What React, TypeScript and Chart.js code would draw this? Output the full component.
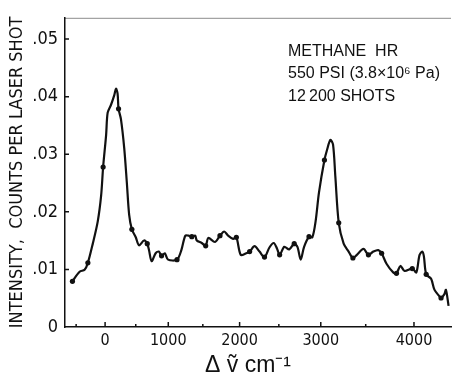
import React, { useEffect, useRef } from "react";
import { Chart, registerables, LinearScale } from "chart.js";

// Raman shift (cm^-1) of the traced curve and its intensity (counts per laser shot)
const SHIFT = [
  -566, -438, -351, -294, -209, -124, -67, -33, 17, 43, 99, 153, 181, 207, 223, 262, 315, 358, 395, 438,
  500, 552, 630, 680, 707, 748, 809, 858, 899, 948, 997, 1129, 1193, 1250, 1297, 1344, 1392, 1415, 1485, 1540,
  1577, 1669, 1737, 1794, 1848, 1914, 1957, 2015, 2087, 2131, 2195, 2258, 2321, 2383, 2436, 2477, 2510, 2567, 2627, 2687,
  2726, 2765, 2805, 2863, 2902, 2940, 2979, 3042, 3073, 3110, 3140, 3166, 3204, 3259, 3314, 3361, 3404, 3476, 3529, 3582,
  3634, 3669, 3720, 3789, 3823, 3863, 3906, 3983, 4023, 4055, 4082, 4098, 4121, 4169, 4201, 4249, 4265, 4296, 4312, 4337,
];
const INTENSITY = [
  0.00794, 0.0096, 0.00993, 0.01115, 0.01448, 0.01835, 0.0228, 0.02779, 0.03333, 0.03722, 0.0386, 0.04027, 0.04138, 0.04055, 0.03789, 0.03611, 0.03111, 0.02501, 0.01947, 0.01697,
  0.01559, 0.01419, 0.01503, 0.01448, 0.01336, 0.01143, 0.01281, 0.0131, 0.01236, 0.01281, 0.0117, 0.0117, 0.01336, 0.01586, 0.01586, 0.01569, 0.01586, 0.01503, 0.01459, 0.01409,
  0.01547, 0.01476, 0.01586, 0.01659, 0.01586, 0.01531, 0.01559, 0.01253, 0.01281, 0.0131, 0.01403, 0.0131, 0.01215, 0.01381, 0.01459, 0.01364, 0.01253, 0.01393, 0.01348, 0.01448,
  0.01393, 0.0117, 0.01393, 0.01569, 0.01559, 0.01835, 0.02334, 0.029, 0.03083, 0.0325, 0.03166, 0.02612, 0.01809, 0.01448, 0.0131, 0.01198, 0.01253, 0.01356, 0.01253, 0.0131,
  0.01336, 0.01281, 0.01098, 0.00948, 0.00932, 0.0106, 0.00973, 0.01015, 0.00948, 0.01248, 0.0131, 0.01231, 0.00915, 0.00837, 0.00649, 0.00532, 0.00504, 0.00566, 0.00644, 0.00366,
];

// Measured points marked with dots
const MARK_SHIFT = [-566, -294, -33, 223, 438, 680, 899, 1129, 1344, 1540, 1737, 1957, 2131, 2321, 2510, 2687, 2863, 3042, 3204, 3361, 3529, 3669, 3823, 3983, 4121, 4265];
const MARK_INTENSITY = [0.00794, 0.01115, 0.02779, 0.03789, 0.01697, 0.01448, 0.01236, 0.0117, 0.01569, 0.01409, 0.01586, 0.01559, 0.0131, 0.01215, 0.01253, 0.01448, 0.01569, 0.029, 0.01809, 0.01198, 0.01253, 0.01281, 0.00932, 0.01015, 0.00915, 0.00504];

const X_TICKS = [-500, 0, 500, 1000, 1500, 2000, 2500, 3000, 3500, 4000];
const X_LABELED = [0, 1000, 2000, 3000, 4000];
const Y_TICKS = [0, 0.01, 0.02, 0.03, 0.04, 0.05];

const Y_TITLE = "INTENSITY,  COUNTS PER LASER SHOT";
const X_TITLE = "Δ ṽ cm⁻¹";
const NOTE_LINES = ["METHANE  HR", "550 PSI (3.8×10⁶ Pa)", "12\u2009200 SHOTS"];

// spectrometer scale is linear in wavelength: pixel ∝ 1/(nu0 - shift)
const NU0 = 17500;
const warp = (v: number) => 1 / (NU0 - v);

class RamanScale extends LinearScale {
  static id = "raman";
  static defaults = {};
  getPixelForValue(value: any) {
    if (value === null || value === undefined || isNaN(value)) return NaN;
    const a = warp(this.min);
    const b = warp(this.max);
    return this.getPixelForDecimal((warp(value) - a) / (b - a));
  }
  getValueForPixel(pixel: number) {
    const d = this.getDecimalForPixel(pixel);
    const a = warp(this.min);
    const b = warp(this.max);
    return NU0 - 1 / (a + d * (b - a));
  }
}

Chart.register(...registerables, RamanScale as any);

const NARROW = "'Liberation Sans Narrow', 'DejaVu Sans Condensed', 'Liberation Sans', sans-serif";
const SANS = "'Liberation Sans', Arial, sans-serif";
const INK = "#111";

const decor = {
  id: "decor",
  afterDraw(chart: any) {
    const { ctx, chartArea, scales } = chart;
    const xs = scales.x;
    const ys = scales.y;
    ctx.save();
    ctx.strokeStyle = INK;
    ctx.lineWidth = 1.5;
    ctx.beginPath();
    X_TICKS.forEach((v) => {
      const px = xs.getPixelForValue(v);
      const len = X_LABELED.includes(v) ? 5 : 3;
      ctx.moveTo(px, chartArea.bottom);
      ctx.lineTo(px, chartArea.bottom - len);
    });
    Y_TICKS.forEach((v) => {
      if (v === 0) return;
      const py = ys.getPixelForValue(v);
      ctx.moveTo(chartArea.left, py);
      ctx.lineTo(chartArea.left + 4, py);
    });
    ctx.stroke();
    // faint top frame
    ctx.strokeStyle = "rgba(0,0,0,0.45)";
    ctx.lineWidth = 1;
    ctx.beginPath();
    ctx.moveTo(chartArea.left, chartArea.top + 0.5);
    ctx.lineTo(chartArea.right, chartArea.top + 0.5);
    ctx.stroke();

    ctx.fillStyle = INK;
    ctx.textAlign = "left";
    ctx.textBaseline = "alphabetic";
    ctx.font = `16px ${SANS}`;
    NOTE_LINES.forEach((t, i) => {
      ctx.fillText(t, chartArea.left + 223, chartArea.top + 38 + i * 22.5);
    });
    ctx.font = `23px ${SANS}`;
    ctx.fillText(X_TITLE, 205, 372);
    ctx.restore();
  },
};

export default function App() {
  const ref = useRef<HTMLCanvasElement | null>(null);
  useEffect(() => {
    if (!ref.current) return;
    const chart = new Chart(ref.current, {
      type: "line",
      data: {
        datasets: [
          {
            data: SHIFT.map((x, i) => ({ x, y: INTENSITY[i] })),
            borderColor: INK,
            borderWidth: 2.2,
            pointRadius: 0,
            tension: 0.3,
            fill: false,
          },
          {
            data: MARK_SHIFT.map((x, i) => ({ x, y: MARK_INTENSITY[i] })),
            showLine: false,
            pointRadius: 2.6,
            pointBackgroundColor: INK,
            pointBorderWidth: 0,
            borderColor: INK,
          },
        ],
      },
      plugins: [decor],
      options: {
        animation: false,
        responsive: true,
        maintainAspectRatio: false,
        layout: { padding: { top: 4, right: 0, left: 0, bottom: 0 } },
        plugins: { legend: { display: false }, tooltip: { enabled: false } },
        scales: {
          x: {
            type: "raman" as any,
            min: -700,
            max: 4360,
            afterFit: (s: any) => {
              s.height = 56;
            },
            afterBuildTicks: (s: any) => {
              s.ticks = X_TICKS.map((value) => ({ value }));
            },
            grid: { display: false, drawTicks: false },
            border: { display: true, color: INK, width: 1.5 },
            ticks: {
              autoSkip: false,
              maxRotation: 0,
              padding: 4,
              color: INK,
              font: { family: NARROW, size: 16 },
              callback: (v: any) => (X_LABELED.includes(Number(v)) ? String(v) : ""),
            },
          },
          y: {
            min: 0,
            max: 0.0537,
            afterFit: (s: any) => {
              s.width = 65;
            },
            afterBuildTicks: (s: any) => {
              s.ticks = Y_TICKS.map((value) => ({ value }));
            },
            grid: { display: false, drawTicks: false },
            border: { display: true, color: INK, width: 1.5 },
            title: {
              display: true,
              text: Y_TITLE,
              color: INK,
              font: { family: NARROW, size: 18 },
              padding: { top: 7, bottom: 0 },
            },
            ticks: {
              padding: 7,
              color: INK,
              font: { family: NARROW, size: 18 },
              callback: (v: any) => (Number(v) === 0 ? "0" : Number(v).toFixed(2).replace(/^0/, "")),
            },
          },
        },
      },
    });
    return () => chart.destroy();
  }, []);
  return (
    <div style={{ position: "fixed", left: 0, top: 0, width: 455, height: 383, background: "#fff" }}>
      <canvas ref={ref} />
    </div>
  );
}
